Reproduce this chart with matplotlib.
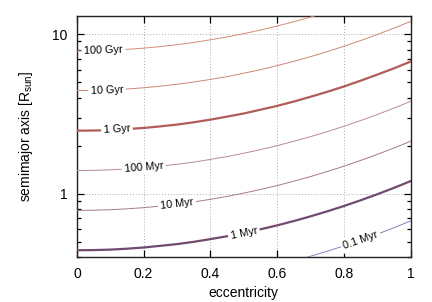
import numpy as np
import matplotlib
matplotlib.use("Agg")
import matplotlib.pyplot as plt
from matplotlib.ticker import FixedLocator, LogLocator, NullFormatter, FuncFormatter

plt.rcParams['font.family'] = ['Liberation Sans', 'DejaVu Sans']
plt.rcParams['mathtext.default'] = 'regular'

# eccentricity samples
ecc = [0.0, 0.05, 0.1, 0.15, 0.2, 0.25, 0.3, 0.35, 0.4, 0.45, 0.5,
       0.55, 0.6, 0.65, 0.7, 0.75, 0.8, 0.85, 0.9, 0.95, 1.0]

# semimajor axis [R_sun] of each merger-time curve at those eccentricities
a_100gyr = [7.85, 7.87, 7.93, 8.03, 8.17, 8.36, 8.59, 8.87, 9.22, 9.61, 10.08,
            10.62, 11.25, 11.98, 12.81, 13.78, 14.88, 16.16, 17.65, 19.35, 21.34]
a_10gyr = [4.43, 4.44, 4.47, 4.53, 4.61, 4.72, 4.85, 5.01, 5.20, 5.42, 5.69,
           5.99, 6.35, 6.76, 7.23, 7.77, 8.40, 9.12, 9.96, 10.92, 12.04]
a_1gyr = [2.48, 2.486, 2.50, 2.54, 2.58, 2.64, 2.71, 2.80, 2.91, 3.04, 3.18,
          3.36, 3.55, 3.78, 4.05, 4.35, 4.70, 5.11, 5.58, 6.11, 6.74]
a_100myr = [1.395, 1.398, 1.409, 1.427, 1.452, 1.486, 1.526, 1.576, 1.638, 1.707, 1.791,
            1.887, 1.999, 2.129, 2.277, 2.448, 2.645, 2.872, 3.136, 3.439, 3.792]
a_10myr = [0.784, 0.786, 0.792, 0.802, 0.816, 0.835, 0.858, 0.886, 0.920, 0.960, 1.007,
           1.061, 1.123, 1.196, 1.279, 1.376, 1.486, 1.614, 1.762, 1.933, 2.131]
a_1myr = [0.441, 0.442, 0.445, 0.451, 0.459, 0.470, 0.482, 0.498, 0.518, 0.540, 0.566,
          0.597, 0.632, 0.673, 0.720, 0.774, 0.836, 0.908, 0.991, 1.087, 1.199]
a_01myr = [0.248, 0.249, 0.250, 0.254, 0.258, 0.264, 0.271, 0.280, 0.291, 0.304, 0.318,
           0.336, 0.355, 0.378, 0.405, 0.435, 0.470, 0.511, 0.557, 0.611, 0.674]

labels = ['100 Gyr', '10 Gyr', '1 Gyr', '100 Myr', '10 Myr', '1 Myr', '0.1 Myr']
curves = [a_100gyr, a_10gyr, a_1gyr, a_100myr, a_10myr, a_1myr, a_01myr]
label_ecc = [0.08, 0.09, 0.12, 0.20, 0.30, 0.50, 0.85]

colors = ['#d48c74', '#cc8672', '#b05c58', '#b9899a', '#a5788f', '#72496f', '#8d7cc0']
widths = [0.7, 0.7, 1.6, 0.7, 0.7, 1.6, 0.7]

fig = plt.figure(figsize=(4.32, 3.02), dpi=100)
ax = fig.add_axes([0.178, 0.149, 0.773, 0.798])

ax.set_xlim(0, 1)
ax.set_yscale('log')
ax.set_ylim(0.40, 13.0)

for a, lab, le, c, w in zip(curves, labels, label_ecc, colors, widths):
    ax.plot(ecc, a, color=c, lw=w, zorder=3)
    # label position and angle along the curve
    loga = np.log(a)
    ya = np.exp(np.interp(le, ecc, loga))
    p1 = ax.transData.transform((le - 0.03, np.exp(np.interp(le - 0.03, ecc, loga))))
    p2 = ax.transData.transform((le + 0.03, np.exp(np.interp(le + 0.03, ecc, loga))))
    ang = np.degrees(np.arctan2(p2[1] - p1[1], p2[0] - p1[0]))
    ax.text(le, ya, lab, fontsize=7.8, rotation=ang, rotation_mode='anchor',
            ha='center', va='center', zorder=4,
            bbox=dict(facecolor='white', edgecolor='none', pad=1.8))

ax.xaxis.set_major_locator(FixedLocator([0, 0.2, 0.4, 0.6, 0.8, 1.0]))
ax.xaxis.set_major_formatter(FuncFormatter(lambda v, p: '%g' % v))
ax.yaxis.set_major_locator(FixedLocator([1, 10]))
ax.yaxis.set_major_formatter(FuncFormatter(lambda v, p: '%g' % v))
ax.yaxis.set_minor_locator(LogLocator(base=10, subs=np.arange(2, 10)))
ax.yaxis.set_minor_formatter(NullFormatter())

ax.grid(True, which='major', color='#aaaaaa', linestyle=(0, (1, 2)), linewidth=0.7, zorder=1)
ax.tick_params(which='both', direction='in', top=True, right=True, labelsize=10, width=0.9)
ax.tick_params(which='major', length=5, pad=7)
ax.tick_params(which='minor', length=3)
for s in ax.spines.values():
    s.set_linewidth(1.0)
    s.set_color('#222222')

ax.set_xlabel('eccentricity', fontsize=10, labelpad=4)
ax.set_ylabel('semimajor axis [R$_{sun}$]', fontsize=10, labelpad=12)

fig.savefig('out.png', dpi=100)
